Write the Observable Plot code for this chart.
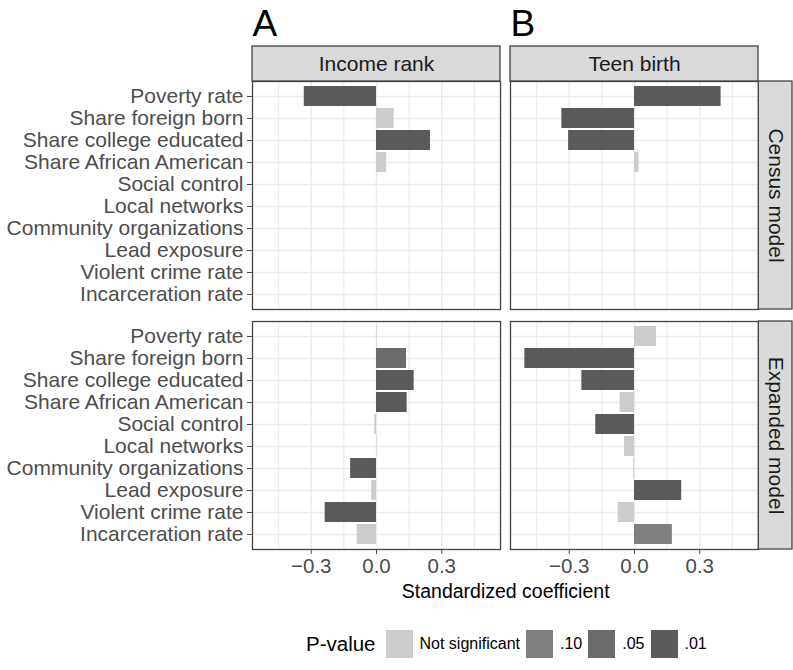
<!DOCTYPE html>
<html>
<head>
<meta charset="utf-8">
<script src="https://cdn.jsdelivr.net/npm/d3@7"></script>
<script src="https://cdn.jsdelivr.net/npm/@observablehq/plot@0.6"></script>
<style>
  body { margin: 0; background: #fff; font-family: "Liberation Sans", Arial, sans-serif; }
  #chart { width: 793px; }
  .legend { display: flex; align-items: center; height: 52px; padding-top: 8px; margin-left: 306px; color: #000; }
  .legend .title { font-size: 20.5px; margin-right: 10px; }
  .legend .sw { width: 27px; height: 28px; margin-right: 7px; }
  .legend .lab { font-size: 16px; margin-right: 6px; }
</style>
</head>
<body>
<div id="chart"></div>
<script>
// ---- data ----
const variables = [
  "Poverty rate", "Share foreign born", "Share college educated", "Share African American",
  "Social control", "Local networks", "Community organizations", "Lead exposure",
  "Violent crime rate", "Incarceration rate"
];
const outcomes = ["Income rank", "Teen birth"];
const models = ["Census model", "Expanded model"];
const panelLetters = ["A", "B"];
const pLevels = ["Not significant", ".10", ".05", ".01"];
const pColors = ["#cccccc", "#808080", "#6b6b6b", "#5a5a5a"];

const incomeCensus  = [-0.332, 0.081, 0.248, 0.047, null, null, null, null, null, null];
const incomeCensusP = [".01", "Not significant", ".01", "Not significant", null, null, null, null, null, null];
const teenCensus    = [0.398, -0.334, -0.303, 0.021, null, null, null, null, null, null];
const teenCensusP   = [".01", ".01", ".01", "Not significant", null, null, null, null, null, null];
const incomeExpanded  = [0.003, 0.138, 0.173, 0.141, -0.008, 0.002, -0.119, -0.022, -0.236, -0.089];
const incomeExpandedP = ["Not significant", ".05", ".01", ".01", "Not significant", "Not significant", ".01", "Not significant", ".01", "Not significant"];
const teenExpanded  = [0.101, -0.504, -0.242, -0.066, -0.178, -0.046, -0.004, 0.217, -0.075, 0.174];
const teenExpandedP = ["Not significant", ".01", ".01", "Not significant", ".01", "Not significant", "Not significant", ".01", "Not significant", ".10"];

const xTicks = [-0.3, 0, 0.3];
const xMinor = [-0.45, -0.15, 0.15, 0.45];
const xDomain = [-0.57, 0.57];

// ---- table ----
const series = [
  {outcome: outcomes[0], model: models[0], v: incomeCensus, p: incomeCensusP},
  {outcome: outcomes[1], model: models[0], v: teenCensus, p: teenCensusP},
  {outcome: outcomes[0], model: models[1], v: incomeExpanded, p: incomeExpandedP},
  {outcome: outcomes[1], model: models[1], v: teenExpanded, p: teenExpandedP}
];
const data = series.flatMap(s => variables.map((name, i) => ({
  outcome: s.outcome, model: s.model, variable: name, value: s.v[i], p: s.p[i]
}))).filter(d => d.value != null);

// ---- layout ----
const W = 793, H = 610;
const mL = 251, mR = 35, mT = 81, mB = 61;
const fxPad = 0.04, fyPad = 0.05;
const facetW = (W - mL - mR) / (2 - fxPad) * (1 - fxPad);
const facetH = (H - mT - mB) / (2 - fyPad) * (1 - fyPad);
const gapX = (W - mL - mR) / (2 - fxPad) * fxPad;

const topStrips = outcomes.map((o, i) => ({outcome: o, model: models[0], letter: panelLetters[i]}));
const rightStrips = models.map(m => ({outcome: outcomes[1], model: m}));
const axisTitle = [{outcome: outcomes[0], model: models[1], label: "Standardized coefficient"}];

const plot = Plot.plot({
  width: W, height: H,
  marginLeft: mL, marginRight: mR, marginTop: mT, marginBottom: mB,
  style: {fontFamily: "Liberation Sans, Arial, sans-serif", background: "#fff"},
  x: {domain: xDomain, label: null},
  y: {domain: variables, paddingInner: 0.1, paddingOuter: 0.15, label: null},
  fx: {domain: outcomes, paddingInner: fxPad, paddingOuter: 0, axis: null},
  fy: {domain: models, paddingInner: fyPad, paddingOuter: 0, axis: null},
  color: {domain: pLevels, range: pColors},
  marks: [
    Plot.ruleX(xMinor, {stroke: "#ebebeb", strokeWidth: 1.1}),
    Plot.ruleX(xTicks, {stroke: "#ebebeb", strokeWidth: 1.5}),
    Plot.ruleY(variables, {stroke: "#ebebeb", strokeWidth: 1.5}),
    Plot.barX(data, {x: "value", y: "variable", fx: "outcome", fy: "model", fill: "p"}),
    Plot.frame({stroke: "#444", strokeWidth: 1.3}),
    Plot.rect(topStrips, {fx: "outcome", fy: "model", fill: "#d9d9d9", stroke: "#444", strokeWidth: 1.3,
      insetTop: -35, insetBottom: facetH}),
    Plot.text(topStrips, {fx: "outcome", fy: "model", text: "outcome", frameAnchor: "top",
      lineAnchor: "middle", dy: -17.5, fontSize: 21, fill: "#1a1a1a"}),
    Plot.text(topStrips, {fx: "outcome", fy: "model", text: "letter", frameAnchor: "top-left",
      lineAnchor: "bottom", textAnchor: "start", dx: 0, dy: -46, fontSize: 37, fill: "#000"}),
    Plot.rect(rightStrips, {fx: "outcome", fy: "model", fill: "#d9d9d9", stroke: "#444", strokeWidth: 1.3,
      insetLeft: facetW, insetRight: -34}),
    Plot.text(rightStrips, {fx: "outcome", fy: "model", text: "model", frameAnchor: "right",
      textAnchor: "middle", lineAnchor: "middle", rotate: 90, dx: 17, fontSize: 21, fill: "#1a1a1a"}),
    Plot.axisX({ticks: xTicks, tickFormat: d3.format(".1f"), tickSize: 5, tickPadding: 4,
      fontSize: 20.5, color: "#4d4d4d"}),
    Plot.axisY({tickSize: 5, tickPadding: 4, fontSize: 21, color: "#4d4d4d"}),
    Plot.text(axisTitle, {fx: "outcome", fy: "model", text: "label", frameAnchor: "bottom-right",
      textAnchor: "middle", lineAnchor: "middle", dx: gapX / 2, dy: 42, fontSize: 19.5, fill: "#000"})
  ]
});
document.getElementById("chart").appendChild(plot);

// ---- legend (built from the plot's color scale) ----
const cs = plot.scale("color");
const legend = d3.select("#chart").append("div").attr("class", "legend");
legend.append("span").attr("class", "title").text("P-value");
cs.domain.forEach((d, i) => {
  legend.append("span").attr("class", "sw").style("background", cs.range[i]);
  legend.append("span").attr("class", "lab").text(d);
});
</script>
</body>
</html>
